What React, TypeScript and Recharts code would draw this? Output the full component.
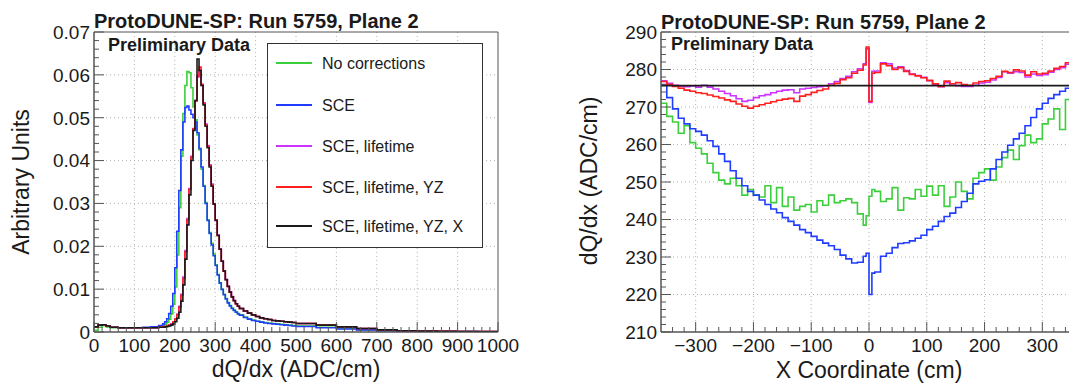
import React from 'react';
import { LineChart, Line, XAxis, YAxis, CartesianGrid, ReferenceLine, ReferenceArea } from 'recharts';

const FONT = '"Liberation Sans", Arial, Helvetica, sans-serif';
const INK = '#1a1a1a';
const AXIS = '#555555';
const GRID = '#b4b4b4';
const GREEN = '#3ccf3c';
const BLUE = '#1f3cff';
const MAGENTA = '#cc33ff';
const RED = '#ff1f1f';
const BLACK = '#1a1a1a';

const SERIES_NAMES = ['No corrections', 'SCE', 'SCE, lifetime', 'SCE, lifetime, YZ', 'SCE, lifetime, YZ, X'];
const SERIES_COLORS = [GREEN, BLUE, MAGENTA, RED, BLACK];

// ---- left panel: dQ/dx distributions (bin lower edges, last entry closes the final bin)
const DQDX_EDGES = [
  0, 10, 20, 30, 40, 60, 80, 100, 120, 140, 160,
  170, 175, 180, 185, 190, 195, 200, 205, 210, 215, 220, 225, 230, 235, 240, 245, 250, 255, 260, 265,
  270, 275, 280, 285, 290, 295, 300, 305, 310, 315, 320, 325, 330, 335, 340, 345, 350, 355,
  360, 370, 380, 390, 400, 410, 420, 430, 440, 450, 460, 470, 480, 490,
  500, 550, 600, 650, 700, 750, 800, 850, 900, 950,
  1000,
];

const H_NOCORR = [
  0.0004, 0.0011, 0.0015, 0.0012, 0.001, 0.0009, 0.0009, 0.001, 0.001, 0.0011, 0.0013,
  0.0015, 0.0018, 0.0023, 0.003, 0.0042, 0.0065, 0.0105, 0.018, 0.029, 0.041, 0.051, 0.0575, 0.0608, 0.0605, 0.057, 0.0525, 0.0495, 0.046, 0.0425, 0.038,
  0.0342, 0.0302, 0.0262, 0.0232, 0.0207, 0.0182, 0.0157, 0.0134, 0.0115, 0.01, 0.0088, 0.0078, 0.0069, 0.0062, 0.0056, 0.0051, 0.0047, 0.0043,
  0.004, 0.0035, 0.0031, 0.0028, 0.0025, 0.0023, 0.0022, 0.0021, 0.002, 0.0019, 0.0018, 0.0017, 0.0016, 0.0015,
  0.0014, 0.0011, 0.0008, 0.0005, 0.0003, 0.0002, 0.00012, 0.0001, 0.00008, 0.00006,
];

const H_SCE = [
  0.0012, 0.0016, 0.0017, 0.0014, 0.0011, 0.001, 0.001, 0.001, 0.0011, 0.0012, 0.0015,
  0.0019, 0.0024, 0.0031, 0.0043, 0.006, 0.009, 0.015, 0.0235, 0.033, 0.0425, 0.049, 0.0524, 0.0527, 0.0518, 0.0508, 0.05, 0.049, 0.0465, 0.0428, 0.0385,
  0.034, 0.03, 0.026, 0.023, 0.0203, 0.0178, 0.0155, 0.0133, 0.0114, 0.0099, 0.0087, 0.0077, 0.0068, 0.0061, 0.0055, 0.005, 0.0046, 0.0042,
  0.0039, 0.0034, 0.003, 0.0027, 0.0025, 0.0023, 0.0021, 0.002, 0.0019, 0.0018, 0.0017, 0.0016, 0.0015, 0.0014,
  0.0013, 0.001, 0.0007, 0.0005, 0.0003, 0.0002, 0.00012, 0.0001, 0.00008, 0.00006,
];

const H_SCE_LT = [
  0.0012, 0.0016, 0.0017, 0.0014, 0.0011, 0.001, 0.001, 0.001, 0.001, 0.001, 0.0011,
  0.0012, 0.0013, 0.0014, 0.0016, 0.0019, 0.0024, 0.0031, 0.0042, 0.006, 0.0088, 0.0128, 0.019, 0.0265, 0.0335, 0.041, 0.0475, 0.054, 0.0595, 0.0612, 0.0575,
  0.0535, 0.0485, 0.0435, 0.039, 0.0345, 0.03, 0.0262, 0.0226, 0.0194, 0.0166, 0.0143, 0.0123, 0.0107, 0.0094, 0.0083, 0.0074, 0.0066, 0.006,
  0.0055, 0.0049, 0.0044, 0.004, 0.0036, 0.0033, 0.0031, 0.0029, 0.0027, 0.0026, 0.0025, 0.0024, 0.0023, 0.0022,
  0.002, 0.0016, 0.0012, 0.0008, 0.0005, 0.0003, 0.0002, 0.00015, 0.0001, 0.0001,
];

const H_SCE_LT_YZ = [
  0.0012, 0.0016, 0.0017, 0.0014, 0.0011, 0.001, 0.001, 0.001, 0.001, 0.001, 0.0011,
  0.0012, 0.0013, 0.0014, 0.0016, 0.0018, 0.0023, 0.003, 0.004, 0.0058, 0.0085, 0.0125, 0.0187, 0.0262, 0.0333, 0.0408, 0.0474, 0.0539, 0.0598, 0.0618, 0.0578,
  0.0533, 0.0483, 0.0433, 0.0388, 0.0343, 0.0299, 0.0261, 0.0225, 0.0193, 0.0165, 0.0142, 0.0122, 0.0106, 0.0093, 0.0082, 0.0073, 0.0066, 0.006,
  0.0055, 0.0049, 0.0044, 0.004, 0.0036, 0.0033, 0.0031, 0.0029, 0.0027, 0.0026, 0.0025, 0.0024, 0.0023, 0.0022,
  0.002, 0.0016, 0.0012, 0.0008, 0.0005, 0.0003, 0.0002, 0.00015, 0.0001, 0.0001,
];

const H_SCE_LT_YZ_X = [
  0.0012, 0.0016, 0.0017, 0.0014, 0.0011, 0.001, 0.001, 0.001, 0.001, 0.001, 0.0011,
  0.0011, 0.0012, 0.0013, 0.0014, 0.0016, 0.0019, 0.0024, 0.0032, 0.0046, 0.0072, 0.011, 0.017, 0.025, 0.032, 0.04, 0.047, 0.054, 0.0637, 0.061, 0.0575,
  0.053, 0.048, 0.043, 0.0385, 0.034, 0.0298, 0.026, 0.0225, 0.0193, 0.0165, 0.0142, 0.0122, 0.0106, 0.0093, 0.0082, 0.0073, 0.0066, 0.006,
  0.0055, 0.0049, 0.0044, 0.004, 0.0036, 0.0033, 0.0031, 0.0029, 0.0027, 0.0026, 0.0025, 0.0024, 0.0023, 0.0022,
  0.002, 0.0016, 0.0012, 0.0008, 0.0005, 0.0003, 0.0002, 0.00015, 0.0001, 0.0001,
];

const DQDX_X_MAJOR = [0, 100, 200, 300, 400, 500, 600, 700, 800, 900, 1000];
const DQDX_Y_MAJOR = [0, 0.01, 0.02, 0.03, 0.04, 0.05, 0.06, 0.07];

// ---- right panel: mean dQ/dx vs X (bin lower edges, last entry closes the final bin)
const XCOORD_EDGES = [
  -360, -350, -340, -330, -320, -310, -300, -290, -280, -270, -260, -250, -240, -230, -220, -210, -200, -190,
  -180, -170, -160, -150, -140, -130, -120, -110, -100, -90, -80, -70, -60, -50, -40, -30, -20,
  -10, -5, 0, 5,
  10, 20, 30, 40, 50, 60, 70, 80, 90, 100, 110, 120, 130, 140, 150, 160, 170, 180,
  190, 200, 210, 220, 230, 240, 250, 260, 270, 280, 290, 300, 310, 320, 330, 340, 350,
  360,
];

const P_NOCORR = [
  271, 267.5, 266, 263, 265, 260.5, 259, 257.5, 255, 252.5, 250.5, 249.5, 251, 249, 246.5, 248, 246.5, 246,
  249, 244.5, 248.5, 243.5, 246, 242.5, 243.5, 244, 242, 245, 243.8, 246.5, 244.5, 245, 245.5, 244.5, 241.5,
  238.5, 241, 246.2, 248,
  247.5, 244.8, 245.5, 248.5, 242.5, 245.8, 245.5, 248, 246.2, 248.9, 246.5, 249, 243.5, 246, 250, 247.5, 245.5, 251,
  252.5, 253.5, 250.5, 254, 256.5, 258.5, 256, 259.7, 262.5, 260.5, 261.5, 265.5, 266.8, 269.5, 264, 272, 270,
];

const P_SCE = [
  276, 272.5, 269.5, 267, 265.5, 264.2, 263.5, 262.5, 261, 259.5, 257.5, 255.5, 253, 251, 249, 247.5, 246.5, 245.2,
  244, 242.8, 241.8, 240.5, 239.5, 238.5, 237.3, 236.5, 235.5, 234.5, 233.7, 233, 232, 230.5, 229.5, 228.4, 228.6,
  230.2, 231, 220, 225.7,
  226, 230.2, 231, 232.5, 233.6, 233.8, 234.3, 235, 235.8, 237.3, 238.2, 239.5, 240.8, 241.7, 243.2, 244.8, 247, 249.5,
  250.2, 250.6, 253.5, 256, 258, 259.8, 261.5, 263, 265, 267.2, 269.5, 271, 272.3, 273.3, 274.2, 275, 275.8,
];

const P_SCE_LT = [
  277, 276.3, 275.8, 275.5, 275.4, 275.6, 275.3, 275.8, 275.3, 274.8, 274.2, 273.6, 273, 272.2, 271.5, 271.8, 272.5, 273,
  273.3, 273.8, 274.2, 274.5, 274.6, 273.8, 274.8, 275, 275.2, 275.4, 275.6, 276.2, 276.8, 277.6, 278.2, 279.4, 280.2,
  281.5, 285.5, 271.2, 279.5,
  279.6, 281.8, 281.5, 280.4, 280.7, 279.7, 278.8, 278.4, 277.9, 277, 276, 275.4, 276.5, 275.8, 275.7, 275.5, 275.5, 275.8,
  276.4, 276.6, 277.2, 277.9, 279.4, 279, 279.4, 279.2, 278, 278.8, 278.4, 278.6, 279.3, 280, 280.5, 281.4, 281.8,
];

const P_SCE_LT_YZ = [
  276.8, 276, 275.5, 275, 274.5, 274.2, 273.8, 273.6, 273.2, 272.8, 272.4, 271.9, 271.5, 270.8, 270.2, 269.7, 270.2, 270.6,
  271, 271.4, 271.8, 272.1, 272.3, 271.5, 272.9, 273.3, 273.9, 274.4, 274.8, 275.8, 276.3, 277.3, 277.8, 279, 279.8,
  281.2, 286, 271.5, 279,
  279.2, 281.5, 281, 280, 280.5, 279.5, 278.7, 278.3, 277.8, 277.1, 276.2, 275.5, 276.9, 276.2, 276.5, 276, 275.8, 276.4,
  276.8, 277, 277.6, 278.2, 279.5, 279.2, 279.9, 279.6, 278.5, 279.4, 278.8, 279, 279.6, 280.3, 280.8, 281.8, 282,
];

// fully corrected profile is flat
const P_SCE_LT_YZ_X_LEVEL = 275.7;

const XCOORD_X_MAJOR = [-300, -200, -100, 0, 100, 200, 300];
const XCOORD_Y_MAJOR = [210, 220, 230, 240, 250, 260, 270, 280, 290];

function buildRows(edges: number[], series: Record<string, number[]>) {
  return edges.map((pos, i) => {
    const row: Record<string, number> = { pos };
    Object.keys(series).forEach((k) => {
      const v = series[k];
      row[k] = v[Math.min(i, v.length - 1)];
    });
    return row;
  });
}

function minorTicks(lo: number, hi: number, step: number): number[] {
  const n = Math.round((hi - lo) / step);
  return Array.from({ length: n + 1 }, (_, i) => +(lo + i * step).toFixed(6));
}

const isMajor = (v: number, majors: number[]) => majors.some((m) => Math.abs(m - v) < 1e-7);

function BottomTick(props: any) {
  const { x, y, payload, majors, fmt } = props;
  if (x == null || y == null || !payload) return null;
  const major = isMajor(payload.value, majors);
  return (
    <g>
      <line x1={x} x2={x} y1={y} y2={y - (major ? 10 : 5)} stroke={AXIS} strokeWidth={1} />
      {major && (
        <text x={x} y={y + 20} textAnchor="middle" fontSize={19} fill={INK} fontFamily={FONT}>
          {fmt(payload.value)}
        </text>
      )}
    </g>
  );
}

function LeftTick(props: any) {
  const { x, y, payload, majors, fmt } = props;
  if (x == null || y == null || !payload) return null;
  const major = isMajor(payload.value, majors);
  return (
    <g>
      <line x1={x} x2={x + (major ? 10 : 5)} y1={y} y2={y} stroke={AXIS} strokeWidth={1} />
      {major && (
        <text x={x - 4} y={y + 6.8} textAnchor="end" fontSize={19} fill={INK} fontFamily={FONT}>
          {fmt(payload.value)}
        </text>
      )}
    </g>
  );
}

const fmtPlain = (v: number) => String(v);
const fmtSigned = (v: number) => (v < 0 ? `\u2212${Math.abs(v)}` : String(v));
const fmtUnits = (v: number) => (v === 0 ? '0' : v.toFixed(2));

const KEYS = ['nocorr', 'sce', 'lt', 'yz', 'full'];

function DqdxChart() {
  const rows = buildRows(DQDX_EDGES, {
    nocorr: H_NOCORR,
    sce: H_SCE,
    lt: H_SCE_LT,
    yz: H_SCE_LT_YZ,
    full: H_SCE_LT_YZ_X,
  });
  return (
    <LineChart width={540} height={383} data={rows} margin={{ top: 32, right: 42, bottom: 21, left: 34 }}>
      <CartesianGrid
        stroke={GRID}
        strokeDasharray="1 3"
        horizontalValues={DQDX_Y_MAJOR.slice(1, -1)}
        verticalValues={DQDX_X_MAJOR.slice(1, -1)}
      />
      <XAxis
        dataKey="pos"
        type="number"
        domain={[0, 1000]}
        ticks={minorTicks(0, 1000, 20)}
        interval={0}
        height={30}
        tickSize={0}
        tickMargin={0}
        stroke={AXIS}
        tick={(p: any) => <BottomTick {...p} majors={DQDX_X_MAJOR} fmt={fmtPlain} />}
      />
      <YAxis
        type="number"
        domain={[0, 0.07]}
        ticks={minorTicks(0, 0.07, 0.002)}
        interval={0}
        width={60}
        tickSize={0}
        tickMargin={0}
        stroke={AXIS}
        allowDataOverflow
        tick={(p: any) => <LeftTick {...p} majors={DQDX_Y_MAJOR} fmt={fmtUnits} />}
      />
      <ReferenceArea x1={0} x2={1000} y1={0} y2={0.07} fill="none" stroke={AXIS} strokeWidth={1} ifOverflow="visible" />
      {KEYS.map((k, i) => (
        <Line
          key={k}
          dataKey={k}
          type="stepAfter"
          stroke={SERIES_COLORS[i]}
          strokeWidth={1.6}
          dot={false}
          isAnimationActive={false}
        />
      ))}
    </LineChart>
  );
}

function XProfileChart() {
  const rows = buildRows(XCOORD_EDGES, {
    nocorr: P_NOCORR,
    sce: P_SCE,
    lt: P_SCE_LT,
    yz: P_SCE_LT_YZ,
  });
  const keys = KEYS.slice(0, 4);
  return (
    <LineChart width={545} height={383} data={rows} margin={{ top: 32, right: 8, bottom: 21, left: 61 }}>
      <CartesianGrid
        stroke={GRID}
        strokeDasharray="1 3"
        horizontalValues={XCOORD_Y_MAJOR.slice(1, -1)}
        verticalValues={XCOORD_X_MAJOR}
      />
      <XAxis
        dataKey="pos"
        type="number"
        domain={[-360, 360]}
        ticks={minorTicks(-340, 340, 20)}
        interval={0}
        height={30}
        tickSize={0}
        tickMargin={0}
        stroke={AXIS}
        tick={(p: any) => <BottomTick {...p} majors={XCOORD_X_MAJOR} fmt={fmtSigned} />}
      />
      <YAxis
        type="number"
        domain={[210, 290]}
        ticks={minorTicks(210, 290, 2)}
        interval={0}
        width={60}
        tickSize={0}
        tickMargin={0}
        stroke={AXIS}
        allowDataOverflow
        tick={(p: any) => <LeftTick {...p} majors={XCOORD_Y_MAJOR} fmt={fmtPlain} />}
      />
      <ReferenceArea x1={-360} x2={360} y1={210} y2={290} fill="none" stroke={AXIS} strokeWidth={1} ifOverflow="visible" />
      {keys.map((k, i) => (
        <Line
          key={k}
          dataKey={k}
          type="stepAfter"
          stroke={SERIES_COLORS[i]}
          strokeWidth={1.6}
          dot={false}
          isAnimationActive={false}
        />
      ))}
      <ReferenceLine y={P_SCE_LT_YZ_X_LEVEL} stroke={BLACK} strokeWidth={1.6} ifOverflow="visible" />
    </LineChart>
  );
}

const LEGEND_ROWS_Y = [63, 105, 146, 187, 226];

function Overlay() {
  const title = 'ProtoDUNE-SP: Run 5759, Plane 2';
  return (
    <svg
      width={1069}
      height={383}
      style={{ position: 'absolute', left: 0, top: 0, pointerEvents: 'none' }}
      fontFamily={FONT}
    >
      <text x={94} y={28} fontSize={20} fontWeight="bold" fill={INK}>{title}</text>
      <text x={108} y={51} fontSize={18} fontWeight="bold" fill={INK}>Preliminary Data</text>
      <text x={661} y={29} fontSize={20} fontWeight="bold" fill={INK}>{title}</text>
      <text x={671} y={50} fontSize={18} fontWeight="bold" fill={INK}>Preliminary Data</text>

      <text x={296} y={377} fontSize={23} textAnchor="middle" fill={INK}>dQ/dx (ADC/cm)</text>
      <text x={869} y={378} fontSize={23} textAnchor="middle" fill={INK}>X Coordinate (cm)</text>
      <text x={29} y={182} fontSize={23} textAnchor="middle" fill={INK} transform="rotate(-90 29 182)">
        Arbitrary Units
      </text>
      <text x={597} y={181} fontSize={23} textAnchor="middle" fill={INK} transform="rotate(-90 597 181)">
        dQ/dx (ADC/cm)
      </text>

      <rect x={267.5} y={43.5} width={215} height={204} fill="#ffffff" stroke="#333333" strokeWidth={1} />
      {SERIES_NAMES.map((name, i) => (
        <g key={name}>
          <line x1={276} x2={312} y1={LEGEND_ROWS_Y[i]} y2={LEGEND_ROWS_Y[i]} stroke={SERIES_COLORS[i]} strokeWidth={2} />
          <text x={322} y={LEGEND_ROWS_Y[i] + 5.5} fontSize={16} fill={INK}>{name}</text>
        </g>
      ))}
    </svg>
  );
}

export default function App() {
  return (
    <div
      style={{
        position: 'absolute',
        left: 0,
        top: 0,
        width: 1069,
        height: 383,
        overflow: 'hidden',
        background: '#ffffff',
        fontFamily: FONT,
      }}
    >
      <div style={{ position: 'absolute', left: 0, top: 0 }}>
        <DqdxChart />
      </div>
      <div style={{ position: 'absolute', left: 540, top: 0 }}>
        <XProfileChart />
      </div>
      <Overlay />
    </div>
  );
}
